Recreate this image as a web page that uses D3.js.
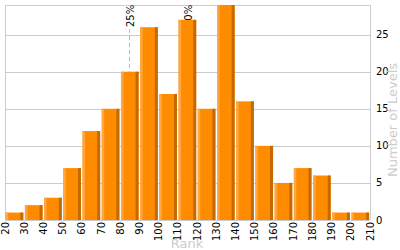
<!DOCTYPE html>
<html>
<head>
<meta charset="utf-8">
<script src="https://cdn.jsdelivr.net/npm/d3@7"></script>
<style>
  body { margin: 0; background: #fff; }
  svg text { font-family: "DejaVu Sans", Verdana, sans-serif; }
</style>
</head>
<body>
<div id="chart"></div>
<script>
// bin start ranks (each bin is 10 wide)
const binStarts = [20, 30, 40, 50, 60, 70, 80, 90, 100, 110, 120, 130, 140, 150, 160, 170, 180, 190, 200];
const levelCounts = [1, 2, 3, 7, 12, 15, 20, 26, 17, 27, 15, 29, 16, 10, 5, 7, 6, 1, 1];
const xTicks = [20, 30, 40, 50, 60, 70, 80, 90, 100, 110, 120, 130, 140, 150, 160, 170, 180, 190, 200, 210];
const yTicks = [0, 5, 10, 15, 20, 25];
const percentiles = [
  { label: "25%", rank: 84.7 },
  { label: "50%", rank: 114.6 }
];

const width = 400;
const height = 250;

const svg = d3.select("#chart").append("svg")
  .attr("width", width)
  .attr("height", height);

// scales
const xScale = d3.scaleLinear().domain([20, 210]).range([5, 370]);
const yScale = d3.scaleLinear().domain([0, 29]).range([220, 5]);

// gridlines
svg.append("g")
  .selectAll("line")
  .data(yTicks.filter(d => d > 0))
  .join("line")
  .attr("x1", 5)
  .attr("x2", 370)
  .attr("y1", d => Math.round(yScale(d)) + 0.5)
  .attr("y2", d => Math.round(yScale(d)) + 0.5)
  .attr("stroke", "#cccccc");

// plot frame
svg.append("path")
  .attr("d", "M5.5,220 V5.5 H370.5 V220")
  .attr("fill", "none")
  .attr("stroke", "#cccccc");

// percentile markers (drawn behind the bars)
const marks = svg.append("g");
percentiles.forEach(p => {
  const x = Math.round(xScale(p.rank)) + 0.5;
  marks.append("line")
    .attr("x1", x).attr("x2", x)
    .attr("y1", 29).attr("y2", 220)
    .attr("stroke", "#bbbbbb")
    .attr("stroke-dasharray", "4,3");
  marks.append("text")
    .attr("transform", `translate(${x + 4}, 27) rotate(-90)`)
    .attr("font-size", 10)
    .attr("fill", "#000")
    .text(p.label);
});

// bars: main body + light left edge + dark right edge
const bars = svg.append("g")
  .selectAll("g")
  .data(binStarts.map((d, i) => ({ start: d, count: levelCounts[i] })))
  .join("g");

const barX = d => xScale(d.start) + 0.7;
const barW = d => xScale(d.start + 10) - xScale(d.start) - 1.6;
const barY = d => yScale(d.count);
const barH = d => yScale(0) - yScale(d.count);

bars.append("rect")
  .attr("x", barX)
  .attr("y", barY)
  .attr("width", barW)
  .attr("height", barH)
  .attr("fill", "#ff8c00");

bars.append("rect")
  .attr("x", barX)
  .attr("y", barY)
  .attr("width", 2.5)
  .attr("height", barH)
  .attr("fill", "#ffa640");

bars.append("rect")
  .attr("x", d => barX(d) + barW(d) - 3)
  .attr("y", barY)
  .attr("width", 3)
  .attr("height", barH)
  .attr("fill", "#c46a00");

// bottom line
svg.append("line")
  .attr("x1", 5).attr("x2", 370)
  .attr("y1", 220.5).attr("y2", 220.5)
  .attr("stroke", "#cccccc");

// y axis labels on the right
svg.append("g")
  .selectAll("text")
  .data(yTicks)
  .join("text")
  .attr("x", 376)
  .attr("y", d => yScale(d))
  .attr("dy", "0.35em")
  .attr("font-size", 10)
  .attr("fill", "#000")
  .text(d => d);

// x axis labels, rotated
svg.append("g")
  .selectAll("text")
  .data(xTicks)
  .join("text")
  .attr("transform", d => `translate(${xScale(d)}, 222) rotate(-90)`)
  .attr("dy", "0.35em")
  .attr("text-anchor", "end")
  .attr("font-size", 10)
  .attr("fill", "#000")
  .text(d => d);

// axis titles
svg.append("text")
  .attr("x", 187)
  .attr("y", 248)
  .attr("text-anchor", "middle")
  .attr("font-size", 13)
  .attr("fill", "#cccccc")
  .text("Rank");

svg.append("text")
  .attr("transform", "translate(397, 120) rotate(-90)")
  .attr("text-anchor", "middle")
  .attr("font-size", 13)
  .attr("fill", "#cccccc")
  .text("Number of Levels");
</script>
</body>
</html>
